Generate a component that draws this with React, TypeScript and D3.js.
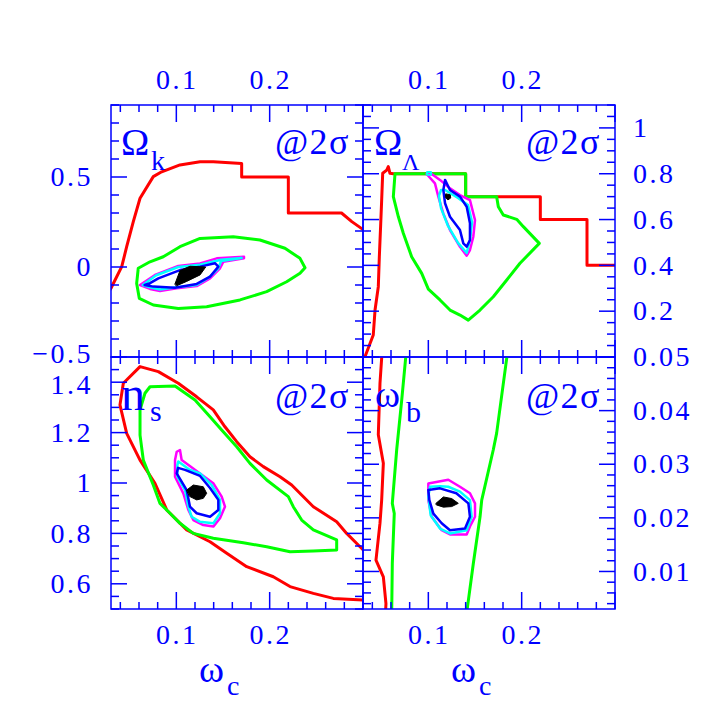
import React from 'react';
import * as d3 from 'd3';

// ---------- data ----------
const xDomain: [number, number] = [0.03, 0.3];
const xLabels = [0.1, 0.2];

const okDomain: [number, number] = [-0.5, 0.9];
const okLabels = [0.5, 0, -0.5];
const olDomain: [number, number] = [0, 1.1];
const olLabels = [1, 0.8, 0.6, 0.4, 0.2];
const nsDomain: [number, number] = [0.5, 1.5];
const nsLabels = [1.4, 1.2, 1, 0.8, 0.6];
const wbDomain: [number, number] = [0.003, 0.05];
const wbLabels = [0.05, 0.04, 0.03, 0.02, 0.01];

// Omega_k vs omega_c
const okRed = [[0.026,-0.15],[0.03,-0.118],[0.0415,0.002],[0.0468,0.113],[0.0539,0.252],[0.0611,0.382],[0.0753,0.502],[0.0843,0.529],[0.1039,0.567],[0.1254,0.585],[0.1396,0.585],[0.17,0.575],[0.17,0.5],[0.22,0.5],[0.22,0.3],[0.277,0.3],[0.288,0.252],[0.305,0.19]];
const okGreen = [[0.0592,-0.007],[0.0575,-0.091],[0.0603,-0.174],[0.0753,-0.211],[0.1021,-0.23],[0.1325,-0.221],[0.1682,-0.183],[0.1968,-0.137],[0.2182,-0.082],[0.2325,-0.035],[0.2379,-0.004],[0.2325,0.048],[0.2164,0.104],[0.1896,0.15],[0.161,0.168],[0.1254,0.159],[0.1039,0.113],[0.086,0.057],[0.0718,0.029]];
const okMagenta = [[0.0611,-0.1],[0.0718,-0.122],[0.0825,-0.133],[0.1004,-0.118],[0.1218,-0.106],[0.1361,-0.063],[0.1468,-0.007],[0.1504,0.029],[0.1725,0.048],[0.1725,0.057],[0.1433,0.048],[0.1254,0.02],[0.1021,0.006],[0.0771,-0.044]];
const okCyan = [[0.064,-0.1],[0.0735,-0.116],[0.0825,-0.125],[0.1004,-0.112],[0.1218,-0.1],[0.1345,-0.06],[0.145,-0.007],[0.148,0.033],[0.170,0.05],[0.148,0.04],[0.1254,0.013],[0.1021,0.0],[0.0785,-0.046]];
const okBlue = [[0.066,-0.1],[0.0753,-0.109],[0.0986,-0.115],[0.1218,-0.094],[0.1361,-0.054],[0.145,0.002],[0.1414,0.021],[0.1254,0.002],[0.1039,-0.017],[0.0807,-0.063],[0.0718,-0.09]];
const okBlack = [[0.0985,-0.095],[0.1039,-0.02],[0.1146,0.004],[0.1315,0.0],[0.1254,-0.044],[0.1111,-0.08],[0.1004,-0.104]];

// Omega_Lambda vs omega_c
const olRed = [[0.031,-0.02],[0.0321,0.001],[0.041,0.096],[0.0429,0.205],[0.0464,0.307],[0.0475,0.438],[0.049,0.584],[0.05,0.685],[0.0511,0.802],[0.0554,0.816],[0.0571,0.831],[0.0589,0.802],[0.0625,0.8],[0.14,0.8],[0.14,0.7],[0.22,0.7],[0.22,0.6],[0.27,0.6],[0.27,0.4],[0.305,0.4]];
const olGreen = [[0.0643,0.8],[0.0625,0.7],[0.0679,0.612],[0.0732,0.54],[0.0821,0.438],[0.0929,0.365],[0.1,0.296],[0.1125,0.249],[0.1232,0.205],[0.1339,0.183],[0.1428,0.161],[0.1554,0.205],[0.1696,0.263],[0.184,0.336],[0.1982,0.409],[0.2189,0.496],[0.2018,0.569],[0.1947,0.601],[0.1803,0.62],[0.175,0.656],[0.1732,0.7],[0.14,0.7],[0.14,0.8]];
const olMagenta = [[0.0982,0.799],[0.1036,0.799],[0.1125,0.773],[0.1232,0.736],[0.1339,0.707],[0.1446,0.685],[0.15,0.598],[0.1482,0.525],[0.1446,0.467],[0.1411,0.442],[0.1339,0.481],[0.1232,0.554],[0.116,0.627],[0.1107,0.7],[0.1071,0.758]];
const olCyan = [[0.1179,0.729],[0.1318,0.694],[0.1425,0.663],[0.1468,0.589],[0.1446,0.511],[0.1411,0.454],[0.1318,0.498],[0.1211,0.572],[0.1136,0.65],[0.1114,0.703],[0.1136,0.729]];
const olCyanDot = [[0.0986,0.808],[0.1029,0.808],[0.1029,0.795],[0.0986,0.795]];
const olBlue = [[0.1179,0.773],[0.1232,0.729],[0.1339,0.7],[0.1411,0.656],[0.1446,0.584],[0.1446,0.511],[0.1411,0.482],[0.1375,0.496],[0.1339,0.554],[0.1232,0.612],[0.1179,0.671],[0.1161,0.729]];
const olBlack = [[0.119,0.712],[0.1235,0.708],[0.124,0.694],[0.121,0.686],[0.1185,0.695]];

// n_s vs omega_c
const nsRed = [[0.306,0.534],[0.3003,0.536],[0.2682,0.542],[0.2468,0.562],[0.2218,0.589],[0.2039,0.628],[0.1754,0.668],[0.154,0.721],[0.1361,0.767],[0.1111,0.814],[0.0897,0.893],[0.0771,0.999],[0.0611,1.091],[0.0468,1.197],[0.0396,1.31],[0.0432,1.396],[0.0611,1.462],[0.0807,1.442],[0.1021,1.396],[0.1218,1.342],[0.1396,1.29],[0.1521,1.223],[0.1647,1.164],[0.1789,1.104],[0.1932,1.065],[0.2111,1.025],[0.2236,0.992],[0.2468,0.906],[0.2718,0.846],[0.2825,0.8],[0.3003,0.734],[0.306,0.71]];
const nsGreen = [[0.0718,1.382],[0.0986,1.385],[0.12,1.329],[0.1361,1.263],[0.1486,1.21],[0.1647,1.144],[0.1789,1.078],[0.1968,1.012],[0.22,0.946],[0.2253,0.906],[0.2343,0.853],[0.2468,0.814],[0.2718,0.774],[0.2718,0.734],[0.2468,0.73],[0.2218,0.727],[0.1968,0.747],[0.1718,0.763],[0.1396,0.781],[0.1182,0.8],[0.1039,0.84],[0.0932,0.88],[0.0825,0.919],[0.0753,0.992],[0.0646,1.091],[0.0611,1.19],[0.0611,1.29],[0.0664,1.356]];
const nsMagenta = [[0.1004,1.124],[0.1039,1.131],[0.1057,1.091],[0.1254,1.038],[0.1396,0.999],[0.1486,0.946],[0.1521,0.906],[0.1468,0.86],[0.1396,0.827],[0.1289,0.833],[0.1182,0.853],[0.1129,0.893],[0.1075,0.959],[0.0986,1.025],[0.0986,1.091]];
const nsCyan = [[0.1021,1.085],[0.1146,1.052],[0.1254,1.038],[0.1379,0.992],[0.1468,0.933],[0.1468,0.88],[0.1396,0.84],[0.1254,0.846],[0.1164,0.866],[0.1129,0.906],[0.1093,0.972],[0.1011,1.025],[0.1011,1.071]];
const nsBlue = [[0.1004,1.038],[0.1111,0.972],[0.1146,0.906],[0.1218,0.88],[0.1361,0.866],[0.145,0.893],[0.145,0.933],[0.1361,0.98],[0.1254,1.028],[0.1093,1.052],[0.1018,1.06]];
const nsBlack = [[0.1111,0.972],[0.1182,0.992],[0.1289,0.985],[0.1325,0.959],[0.1289,0.939],[0.1218,0.933],[0.1146,0.946]];

// omega_b vs omega_c
const wbRed = [[0.05,0.052],[0.05,0.0498],[0.0482,0.0451],[0.0464,0.0355],[0.0518,0.0302],[0.05,0.0233],[0.0482,0.019],[0.0439,0.0121],[0.0518,0.009],[0.0546,0.004],[0.0539,0.0015]];
const wbGreenL = [[0.076,0.052],[0.0757,0.0498],[0.0715,0.042],[0.0661,0.0327],[0.0614,0.0227],[0.0635,0.0208],[0.0614,0.0115],[0.0607,0.0015]];
const wbGreenR = [[0.1855,0.052],[0.184,0.0498],[0.1732,0.0358],[0.1696,0.0327],[0.1572,0.0233],[0.1554,0.0202],[0.1482,0.0115],[0.1405,0.0015]];
const wbMagenta = [[0.1,0.0264],[0.1214,0.0271],[0.1339,0.0258],[0.1446,0.0246],[0.15,0.0227],[0.15,0.0202],[0.1446,0.0184],[0.1411,0.0169],[0.1339,0.0169],[0.1232,0.0169],[0.1143,0.0177],[0.1036,0.0202],[0.1,0.0233]];
const wbCyan = [[0.1018,0.0258],[0.1125,0.0259],[0.1214,0.0258],[0.1339,0.0249],[0.1446,0.0233],[0.1464,0.0202],[0.1411,0.0177],[0.1232,0.0171],[0.1125,0.018],[0.1025,0.0205],[0.1,0.024]];
const wbBlue = [[0.1,0.0252],[0.1125,0.0255],[0.13,0.0246],[0.1429,0.0227],[0.1446,0.0202],[0.1393,0.018],[0.1232,0.0177],[0.1143,0.019],[0.1054,0.0208],[0.1011,0.0233]];
const wbBlack = [[0.1082,0.0227],[0.1161,0.0239],[0.125,0.0236],[0.1321,0.0227],[0.125,0.0221],[0.1161,0.022],[0.1089,0.0224]];

// ---------- styling / layout ----------
const AX = '#0000ff';
const FONT = "'Liberation Serif', 'DejaVu Serif', serif";
const SIZE = 252;
const X0 = 111, X1 = 363, Y0 = 105, Y1 = 357;

type Curve = { pts: number[][]; color: string; width: number; closed: boolean; fill?: boolean };

const C = (pts: number[][], color: string, width: number, closed: boolean, fill = false): Curve => ({ pts, color, width, closed, fill });

const panels = [
  { id: 'ok', px: X0, py: Y0, yDomain: okDomain, yLabels: okLabels, yMajor: 0.5, yMinor: 0.1, side: 'left', xSide: 'top', nudge: (v: number) => (v === -0.5 ? -3 : 0), fmt: (v: number) => (v < 0 ? '\u2212' + Math.abs(v) : String(v)),
    curves: [C(okRed, '#ff0000', 3, false), C(okGreen, '#00ff00', 3, true), C(okMagenta, '#ff00ff', 2.5, true), C(okCyan, '#00ffff', 2.5, true), C(okBlue, '#0000ff', 2.5, true), C(okBlack, '#000000', 1, true, true)] },
  { id: 'ol', px: X1, py: Y0, yDomain: olDomain, yLabels: olLabels, yMajor: 0.2, yMinor: 0.05, side: 'right', xSide: 'top', nudge: () => 0, fmt: (v: number) => String(v),
    curves: [C(olRed, '#ff0000', 3, false), C(olGreen, '#00ff00', 3, true), C(olMagenta, '#ff00ff', 2.5, true), C(olCyan, '#00ffff', 2.5, true), C(olCyanDot, '#00ffff', 2, true), C(olBlue, '#0000ff', 2.5, true), C(olBlack, '#000000', 1, true, true)] },
  { id: 'ns', px: X0, py: Y1, yDomain: nsDomain, yLabels: nsLabels, yMajor: 0.2, yMinor: 0.05, side: 'left', xSide: 'bottom', nudge: (v: number) => (v === 1.4 ? 3 : 0), fmt: (v: number) => String(v),
    curves: [C(nsRed, '#ff0000', 3, false), C(nsGreen, '#00ff00', 3, true), C(nsMagenta, '#ff00ff', 2.5, true), C(nsCyan, '#00ffff', 2.5, true), C(nsBlue, '#0000ff', 2.5, true), C(nsBlack, '#000000', 1, true, true)] },
  { id: 'wb', px: X1, py: Y1, yDomain: wbDomain, yLabels: wbLabels, yMajor: 0.01, yMinor: 0.002, side: 'right', xSide: 'bottom', nudge: () => 0, fmt: (v: number) => v.toFixed(2),
    curves: [C(wbRed, '#ff0000', 3, false), C(wbGreenL, '#00ff00', 3, false), C(wbGreenR, '#00ff00', 3, false), C(wbMagenta, '#ff00ff', 2.5, true), C(wbCyan, '#00ffff', 2.5, true), C(wbBlue, '#0000ff', 2.5, true), C(wbBlack, '#000000', 1, true, true)] },
];

function tickVals(domain: [number, number], step: number) {
  const out: number[] = [];
  const a = Math.ceil(domain[0] / step - 1e-6), b = Math.floor(domain[1] / step + 1e-6);
  for (let i = a; i <= b; i++) out.push(+(i * step).toFixed(6));
  return out;
}
const isMultiple = (v: number, step: number) => Math.abs(v / step - Math.round(v / step)) < 1e-4;

function Panel({ p }: { p: any }) {
  const x = d3.scaleLinear().domain(xDomain).range([p.px, p.px + SIZE]);
  const y = d3.scaleLinear().domain(p.yDomain).range([p.py + SIZE, p.py]);
  const left = p.px, right = p.px + SIZE, top = p.py, bottom = p.py + SIZE;
  const xt = tickVals(xDomain, 0.02);
  const yt = tickVals(p.yDomain, p.yMinor);
  const ticks: JSX.Element[] = [];
  xt.forEach((v, i) => {
    const L = isMultiple(v, 0.1) ? 17 : 7;
    const xx = x(v);
    ticks.push(<line key={'xt' + i} x1={xx} x2={xx} y1={top} y2={top + L} />);
    ticks.push(<line key={'xb' + i} x1={xx} x2={xx} y1={bottom} y2={bottom - L} />);
  });
  yt.forEach((v, i) => {
    const L = isMultiple(v, p.yMajor) ? 16 : 8;
    const yy = y(v);
    ticks.push(<line key={'yl' + i} x1={left} x2={left + L} y1={yy} y2={yy} />);
    ticks.push(<line key={'yr' + i} x1={right} x2={right - L} y1={yy} y2={yy} />);
  });
  const line = d3.line<number[]>().x((d) => x(d[0])).y((d) => y(d[1]));
  const lineClosed = d3.line<number[]>().x((d) => x(d[0])).y((d) => y(d[1])).curve(d3.curveLinearClosed);
  const FS = 28;
  return (
    <g>
      <defs>
        <clipPath id={'clip-' + p.id}>
          <rect x={left} y={top} width={SIZE} height={SIZE} />
        </clipPath>
      </defs>
      <g clipPath={`url(#clip-${p.id})`}>
        {p.curves.map((c: Curve, i: number) => (
          <path key={i} d={(c.closed ? lineClosed : line)(c.pts) || ''} fill={c.fill ? c.color : 'none'} stroke={c.color}
            strokeWidth={c.width} strokeLinejoin="round" strokeLinecap="round" />
        ))}
      </g>
      <g stroke={AX} strokeWidth={1.5}>
        {ticks}
        <rect x={left} y={top} width={SIZE} height={SIZE} fill="none" />
      </g>
      <g fill={AX} fontFamily={FONT} fontSize={FS} letterSpacing={2.5}>
        {xLabels.map((v) => (
          <text key={'xl' + v} x={x(v) + 1} y={p.xSide === 'top' ? 89 : 644} textAnchor="middle">{String(v)}</text>
        ))}
        {p.yLabels.map((v: number) => (
          <text key={'yl' + v} x={p.side === 'left' ? 93 : 633} y={y(v) + FS * 0.33 + p.nudge(v)} textAnchor={p.side === 'left' ? 'end' : 'start'}>{p.fmt(v)}</text>
        ))}
      </g>
      <text x={p.side === 'left' ? 350 : 601} y={p.xSide === 'top' ? 154 : 408} textAnchor="end" fill={AX} fontFamily={FONT} fontSize={36} letterSpacing={1.5}>@2σ</text>
    </g>
  );
}

export default function App() {
  return (
    <svg width={720} height={720} viewBox="0 0 720 720" style={{ position: 'absolute', left: 0, top: 0, background: '#fff' }}>
      <rect x={0} y={0} width={720} height={720} fill="#fff" />
      {panels.map((p) => <Panel key={p.id} p={p} />)}
      <g fill={AX} fontFamily={FONT}>
        <text x={121} y={155} fontSize={38}>Ω</text>
        <text x={151} y={170} fontSize={28}>k</text>
        <text x={374} y={155} fontSize={38}>Ω</text>
        <text x={402} y={170} fontSize={24}>Λ</text>
        <text x={121} y={410} fontSize={48}>n</text>
        <text x={150} y={421} fontSize={30}>s</text>
        <text x={375} y={407} fontSize={38}>ω</text>
        <text x={406} y={422} fontSize={30}>b</text>
        <text x={199} y={682} fontSize={38}>ω</text>
        <text x={227} y={695} fontSize={28}>c</text>
        <text x={451} y={682} fontSize={38}>ω</text>
        <text x={479} y={695} fontSize={28}>c</text>
      </g>
    </svg>
  );
}
